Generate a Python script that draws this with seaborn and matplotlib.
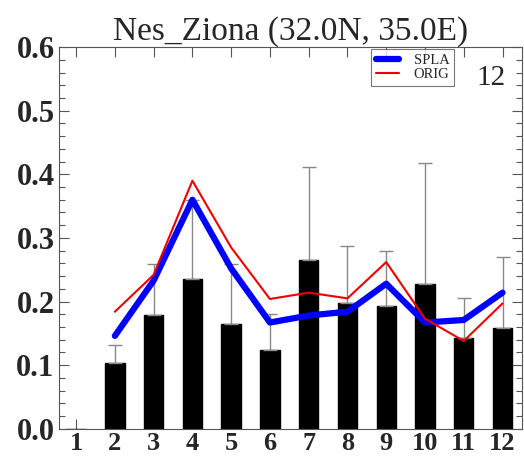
import numpy as np
import pandas as pd
import matplotlib
matplotlib.use("Agg")
import matplotlib.pyplot as plt
import seaborn as sns
from matplotlib.ticker import MultipleLocator

months = list(range(1, 13))
obs = [0.0, 0.103, 0.179, 0.236, 0.165, 0.124, 0.265, 0.198, 0.193, 0.228, 0.142, 0.159]
obs_upper = [np.nan, 0.132, 0.259, 0.360, 0.259, 0.180, 0.411, 0.288, 0.279, 0.418, 0.206, 0.270]
spla = [np.nan, 0.146, 0.233, 0.360, 0.252, 0.167, 0.178, 0.184, 0.228, 0.167, 0.171, 0.214]
orig = [np.nan, 0.184, 0.242, 0.390, 0.285, 0.204, 0.214, 0.205, 0.262, 0.173, 0.138, 0.197]
yticks = [0.0, 0.1, 0.2, 0.3, 0.4, 0.5, 0.6]
title = "Nes_Ziona (32.0N, 35.0E)"
panel_label = "12"

sns.set_style("ticks")
plt.rcParams["font.family"] = ["Liberation Serif", "DejaVu Serif"]

fig = plt.figure(figsize=(5.24, 4.62), dpi=100)
ax = fig.add_axes([0.112, 0.072, 0.884, 0.826])

df = pd.DataFrame({"month": months, "obs": obs})
sns.barplot(data=df, x="month", y="obs", native_scale=True, color="black",
            width=0.5, edgecolor="black", saturation=1, ax=ax, errorbar=None)

obs_arr = np.array(obs)
up = np.array(obs_upper) - obs_arr
mask = ~np.isnan(up)
ax.errorbar(np.array(months)[mask], obs_arr[mask],
            yerr=[np.zeros(mask.sum()), up[mask]], fmt="none",
            ecolor="#888888", elinewidth=1.0, capsize=5, capthick=1.0, zorder=1)

ld = pd.DataFrame({"month": months, "SPLA": spla, "ORIG": orig})
sns.lineplot(data=ld, x="month", y="SPLA", color="#0000ff", linewidth=4.5,
             ax=ax, label="SPLA", zorder=4)
sns.lineplot(data=ld, x="month", y="ORIG", color="#ee0000", linewidth=1.5,
             ax=ax, label="ORIG", zorder=5)

ax.set_xlim(0.55, 12.5)
ax.set_ylim(0, 0.6)
ax.set_xticks(months)
ax.set_xticklabels([str(m) for m in months])
ax.set_yticks(yticks)
ax.set_yticklabels([f"{v:.1f}" for v in yticks])
ax.yaxis.set_minor_locator(MultipleLocator(0.02))
ax.tick_params(axis="both", which="both", direction="in", top=True, right=True,
               color="#555555")
ax.tick_params(axis="both", which="major", length=7, width=0.8)
ax.tick_params(axis="x", which="major", pad=2, labelsize=19)
ax.tick_params(axis="y", which="major", pad=3, labelsize=22)
ax.tick_params(axis="y", which="minor", length=4, width=0.8)
for lab in ax.get_xticklabels() + ax.get_yticklabels():
    lab.set_fontweight("bold")
ax.set_xlabel("")
ax.set_ylabel("")
for s in ax.spines.values():
    s.set_linewidth(0.8)
    s.set_color("#555555")

ax.set_title(title, fontsize=24, pad=2)
ax.text(0.965, 0.92, panel_label, transform=ax.transAxes, fontsize=21,
        ha="right", va="center")
leg = ax.legend(loc="upper left", bbox_to_anchor=(0.675, 0.995), fontsize=10.5,
                frameon=True, fancybox=False, edgecolor="#555555",
                handlelength=1.6, borderpad=0.3, labelspacing=0.1,
                handletextpad=1.0, borderaxespad=0)
leg.get_frame().set_linewidth(0.8)

fig.savefig("out.png", dpi=100)
